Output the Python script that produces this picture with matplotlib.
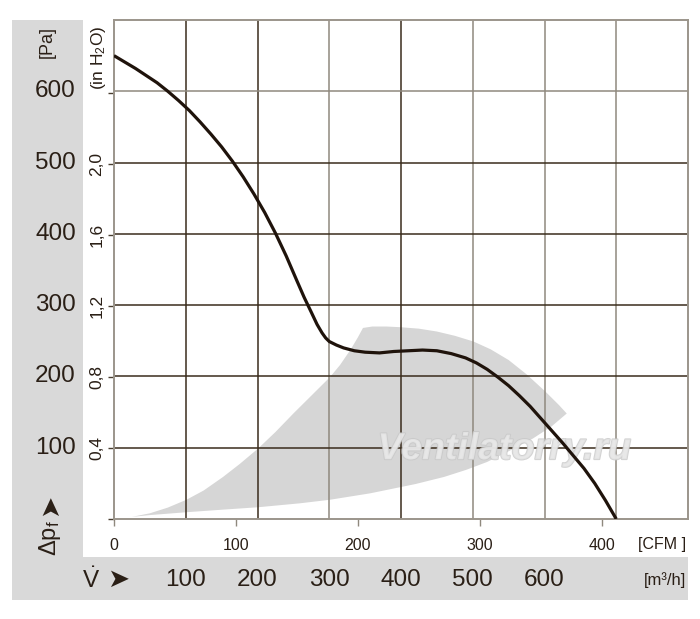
import numpy as np
import matplotlib as mpl
mpl.use('Agg')
import matplotlib.pyplot as plt
import matplotlib.transforms as mtransforms
import matplotlib.patheffects as pe
from matplotlib.patches import Rectangle

mpl.rcParams.update({
    'font.family': ['Liberation Sans', 'DejaVu Sans'],
    'mathtext.fontset': 'custom',
    'mathtext.rm': 'Liberation Sans',
    'mathtext.it': 'Liberation Sans:italic',
    'mathtext.bf': 'Liberation Sans:bold',
})

CFM_TO_M3H = 1.699
PA_PER_INH2O = 249.09

# fan curve, flow in m3/h, static pressure in Pa
flow = [0, 15, 30, 45, 60, 75, 90, 105, 120, 135, 150, 165, 180, 195, 210, 225, 240,
        255, 265, 275, 283, 290, 295, 300, 310, 320, 335, 350, 370, 390, 410, 430,
        450, 470, 490, 505, 520, 535, 550, 565, 580, 595, 610, 625, 640, 655, 670,
        685, 700]
pressure = [650, 641, 632, 622, 612, 600, 587, 573, 557, 540, 522, 502, 480, 456, 430,
            401, 369, 334, 311, 290, 273, 261, 254, 249, 244, 240, 236, 234, 233, 235,
            236, 237, 236, 232, 226, 219, 210, 199, 187, 173, 158, 141, 124, 107, 89,
            71, 50, 26, 0]

# grey operating range (lower edge, then upper edge back to origin)
band_low_flow = [0, 25, 50, 101, 150, 201, 259, 301, 357, 420, 460, 491, 520, 550,
                 584, 610, 631]
band_low_pa = [0, 3, 5.5, 9.5, 13, 16.5, 22, 27, 36, 49, 59, 69, 80, 95, 113, 130, 148]
band_up_flow = [631, 620, 601, 575, 550, 525, 501, 475, 450, 425, 400, 380, 360, 347,
                340, 330, 315, 301, 275, 250, 225, 201, 175, 152, 125, 101, 75, 50, 25, 0]
band_up_pa = [148, 160, 179, 203, 223, 238, 249, 257, 263, 267, 269, 270, 270, 268,
              255, 238, 216, 199, 173, 148, 122, 99, 77, 59, 40, 27, 16, 8, 3, 0]

pa_labels = [100, 200, 300, 400, 500, 600]
inh2o_ticks = [0, 0.4, 0.8, 1.2, 1.6, 2.0, 2.4]
inh2o_labels = ['', '0,4', '0,8', '1,2', '1,6', '2,0', '']
cfm_ticks = [0, 100, 200, 300, 400]
m3h_labels = [100, 200, 300, 400, 500, 600]
grid_flow = [100, 200, 300, 400, 500, 600, 700]
grid_pa = [100, 200, 300, 400, 500, 600]

W, H = 700, 619
def fx(px):
    return px / W
def fy(py):
    return 1 - py / H

txt = '#2a1f16'
grey = '#d9d9d9'

fig = plt.figure(figsize=(7, 6.19), dpi=100)

# L-shaped grey frame
fig.add_artist(Rectangle((fx(12), fy(600)), fx(83) - fx(12), fy(20) - fy(600),
                         transform=fig.transFigure, color=grey, lw=0, zorder=0))
fig.add_artist(Rectangle((fx(12), fy(600)), fx(688) - fx(12), fy(557) - fy(600),
                         transform=fig.transFigure, color=grey, lw=0, zorder=0))

ax = fig.add_axes([fx(114), fy(519), fx(688) - fx(114), fy(20) - fy(519)])
ax.set_xlim(0, 800)
ax.set_ylim(0, 700)
for s in ax.spines.values():
    s.set_color('#9b958b')
    s.set_linewidth(1.4)

vcol = ['#3a2c1c', '#3a2c1c', '#8f897e', '#3a2c1c', '#8f897e', '#8f897e', '#8f897e']
hcol = ['#3a2c1c', '#3a2c1c', '#3a2c1c', '#3a2c1c', '#3a2c1c', '#8f897e']
for v, c in zip(grid_flow, vcol):
    ax.axvline(v, color=c, lw=1.1, zorder=1)
for p, c in zip(grid_pa, hcol):
    ax.axhline(p, color=c, lw=1.1, zorder=1)

ax.fill(band_low_flow + band_up_flow, band_low_pa + band_up_pa,
        color='#d6d6d6', lw=0, zorder=0.5)

ax.text(0.68, 0.14, 'Ventilatorry.ru', transform=ax.transAxes, ha='center', va='center',
        fontsize=27, fontstyle='italic', fontweight='bold', color='#e8e8e8', alpha=0.8,
        zorder=2, path_effects=[pe.Stroke(linewidth=1.4, foreground='#c8c8c8'), pe.Normal()])

ax.plot(flow, pressure, color='#1f130b', lw=2.3, zorder=3,
        solid_capstyle='butt', solid_joinstyle='round')

# inH2O axis on the spine
ax.set_yticks([v * PA_PER_INH2O for v in inh2o_ticks])
ax.set_yticklabels(inh2o_labels, rotation=90, va='center')
ax.tick_params(axis='y', length=4, width=1, color='#4a3e30', pad=3,
               labelsize=12.5, labelcolor=txt)

# CFM axis under the plot
ax.set_xticks([c * CFM_TO_M3H for c in cfm_ticks])
ax.set_xticklabels([str(c) for c in cfm_ticks])
ax.tick_params(axis='x', length=5, width=1, color='#8f897e', pad=9,
               labelsize=11.5, labelcolor=txt)

# Pa labels in grey band
tr_pa = mtransforms.blended_transform_factory(fig.transFigure, ax.transData)
for p in pa_labels:
    ax.text(fx(76), p, str(p), transform=tr_pa, ha='right', va='center',
            fontsize=17.5, color=txt, clip_on=False)

# m3/h labels in bottom band
tr_q = mtransforms.blended_transform_factory(ax.transData, fig.transFigure)
for q in m3h_labels:
    ax.text(q, fy(580), str(q), transform=tr_q, ha='center', va='center',
            fontsize=17.5, color=txt, clip_on=False)

fig.text(fx(686), fy(545), '[CFM ]', ha='right', va='center', fontsize=11.5, color=txt)
fig.text(fx(686), fy(580), '[m³/h]', ha='right', va='center', fontsize=12, color=txt)
fig.text(fx(47), fy(42), '[Pa]', rotation=90, ha='center', va='center', fontsize=13, color=txt)
fig.text(fx(98), fy(58), '(in H$_2$O)', rotation=90, ha='center', va='center',
         fontsize=12.5, color=txt)
fig.text(fx(50), fy(538), 'Δp$_{\\mathrm{f}}$', rotation=90, ha='center', va='center',
         fontsize=17, color=txt)
fig.text(fx(50), fy(505), '➤', rotation=90, ha='center', va='center',
         fontsize=19, color=txt, family=['DejaVu Sans'])
fig.text(fx(91), fy(580), r'$\dot{\mathrm{V}}$', ha='center', va='center',
         fontsize=17.5, color=txt)
fig.text(fx(118), fy(580), '➤', ha='center', va='center',
         fontsize=19, color=txt, family=['DejaVu Sans'])

fig.savefig('out.png', dpi=100)
